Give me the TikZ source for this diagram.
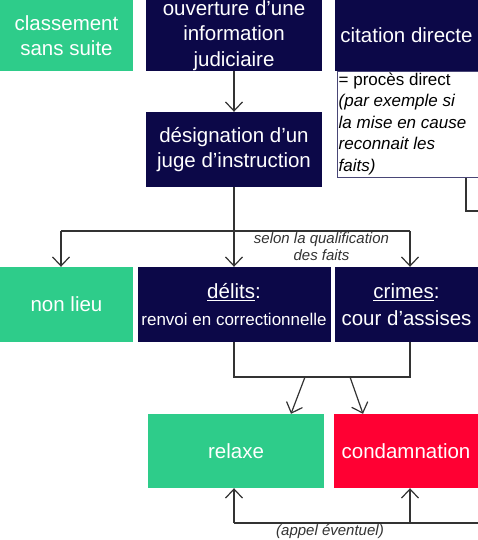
\documentclass[tikz,border=0pt]{standalone}
\usepackage{fontspec}
\setmainfont{Liberation Sans}
\usetikzlibrary{arrows.meta}
\definecolor{vert}{HTML}{2ECC8A}
\definecolor{marine}{HTML}{0C0848}
\definecolor{rouge}{HTML}{FF0033}
\definecolor{trait}{HTML}{333333}
\begin{document}
\begin{tikzpicture}[x=1pt,y=-1pt,
  box/.style={rectangle, inner sep=0pt, align=center, text=white,
    font=\fontsize{20.5}{25.5}\selectfont},
  gbox/.style={box, fill=vert},
  nbox/.style={box, fill=marine},
  rbox/.style={box, fill=rouge},
  conn/.style={draw=trait, line width=1.2pt},
  arr/.style={conn, -{Straight Barb[length=9pt,width=17pt]}},
  lab/.style={font=\fontsize{15}{16.5}\selectfont\itshape, text=trait, inner sep=0pt, align=center},
  descbox/.style={draw=marine!75, line width=0.9pt, fill=white, anchor=north west, inner sep=0pt},
  desctext/.style={anchor=north west, inner sep=0pt, align=left, text=black,
    font=\fontsize{17}{21.5}\selectfont}]
\useasboundingbox (0,0) rectangle (478,540);
\fill[white] (0,0) rectangle (478,540);

% top row
\node[gbox, minimum width=133pt, minimum height=71pt] (cls) at (66.5,35.5) {classement\\sans suite};
\node[nbox, minimum width=176pt, minimum height=71pt] (ouv) at (234,35.5) {ouverture d’une\\information\\judiciaire};
\node[nbox, minimum width=143pt, minimum height=71pt] (cit) at (406.5,35.5) {citation directe};
\node[descbox, minimum width=160pt, minimum height=106pt] (desc) at (337,71) {};
\node[desctext] (desct) at (338.5,72.5) {= procès direct\\\textit{(par exemple si}\\\textit{la mise en cause}\\\textit{reconnait les}\\\textit{faits)}};

% second row
\node[nbox, minimum width=176pt, minimum height=75pt] (des) at (234,149.5) {désignation d’un\\juge d’instruction};

% third row
\node[gbox, minimum width=133pt, minimum height=75pt] (nl) at (66.5,304.5) {non lieu};
\node[nbox, minimum width=193pt, minimum height=75pt, font=\fontsize{20.5}{27}\selectfont] (del) at (234,304.5) {\underline{délits}:\\{\fontsize{17}{27}\selectfont renvoi en correctionnelle}};
\node[nbox, minimum width=143pt, minimum height=75pt, font=\fontsize{20.5}{27}\selectfont] (cri) at (406.5,304.5) {\underline{crimes}:\\cour d’assises};

% fourth row
\node[gbox, minimum width=176pt, minimum height=74pt] (rel) at (236,451) {relaxe};
\node[rbox, minimum width=144pt, minimum height=74pt] (con) at (406,451) {condamnation};

% labels
\node[lab] (sq) at (321.5,246.5) {selon la qualification\\des faits};
\node[lab, anchor=north] (ae) at (330,524.5) {(appel éventuel)};

% connectors
\draw[arr] (ouv.south) -- (des.north);
\draw[arr] (des.south) -- (del.north);
\coordinate (bl) at (61,231);
\coordinate (br) at (410,231);
\draw[conn] (bl) -- (br);
\draw[arr] (bl) -- (bl |- nl.north);
\draw[arr] (br) -- (br |- cri.north);

\coordinate (jl) at (234,377);
\draw[conn] (del.south) -- (jl) -| (br |- cri.south);
\coordinate (ja) at (305,377);
\coordinate (jb) at (350,377);
\draw[arr] (ja) -- ([xshift=55pt]rel.north);
\draw[arr] (jb) -- ([xshift=-43pt]con.north);

\coordinate (ap) at (234,523);
\coordinate (aq) at (410,523);
\coordinate (ae2) at (485,523);
\draw[conn] (ap) -- (ae2);
\draw[arr] (ap) -- (ap |- rel.south);
\draw[arr] (aq) -- (aq |- con.south);

\coordinate (dr) at (485,211);
\draw[conn] ([xshift=129pt]desc.south west) |- (dr);
\end{tikzpicture}
\end{document}
